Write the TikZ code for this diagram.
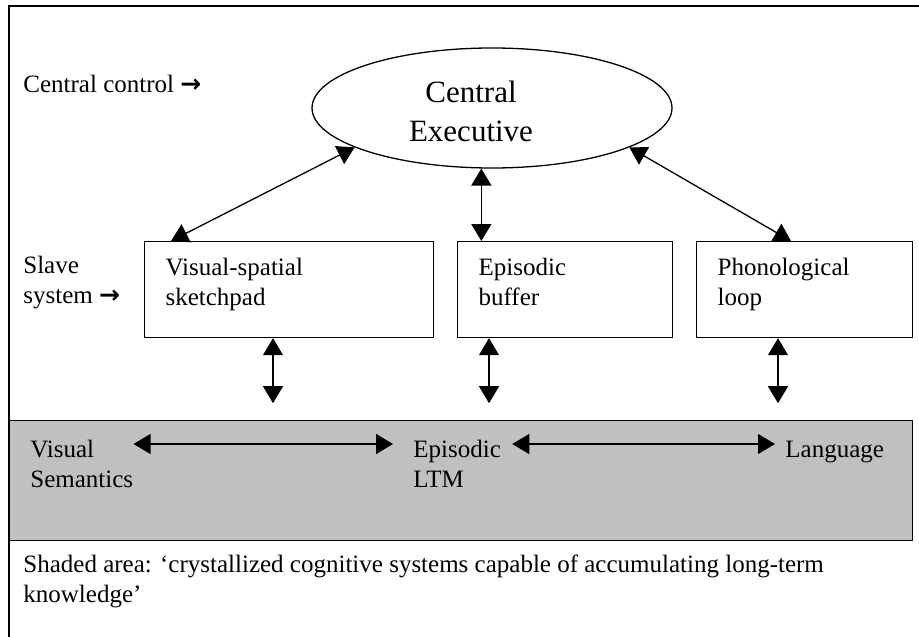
\documentclass[tikz,border=0pt]{standalone}
\usepackage{fontspec}
\setmainfont{Liberation Serif}
\newfontfamily\arrowfont{DejaVu Sans}
\usetikzlibrary{arrows.meta,calc,shapes.geometric}
\definecolor{wmink}{HTML}{000000}
\definecolor{wmshade}{HTML}{C0C0C0}
\newcommand{\rarr}{{\arrowfont\bfseries →}}
\tikzset{
  txt/.style={inner sep=0pt, align=left, anchor=base west, font=\fontsize{12.5}{15}\selectfont},
  sys/.style={draw=wmink, line width=0.6pt, fill=white, anchor=north west, align=left, inner xsep=10.5pt, inner ysep=0pt, text height=17pt, text depth=31pt, font=\fontsize{12.5}{15}\selectfont},
  exec/.style={ellipse, draw=wmink, line width=0.65pt, minimum width=180pt, minimum height=60pt, inner sep=0pt},
  shade/.style={draw=wmink, fill=wmshade, line width=0.65pt, anchor=north west, inner sep=0pt},
  dbl/.style={{Triangle[length=8.5pt,width=10pt]}-{Triangle[length=8.5pt,width=10pt]}, line width=0.65pt, color=wmink},
}

\begin{document}
\begin{tikzpicture}[x=0.5pt, y=-0.5pt]
  \useasboundingbox (0,0) rectangle (919,636);
  \clip (0,0) rectangle (919,636);
  \draw[line width=0.65pt] (9,6) rectangle (940,660);

  \node[exec] (ce) at (492,108) {};
  \node[anchor=base, align=center, inner sep=0pt, font=\fontsize{15.5}{19.5}\selectfont] (cetitle) at (471,142) {Central\\Executive};
  \node[txt] (ctrl) at (23,93) {Central control \rarr};
  \node[txt] (slave) at (23,303) {Slave\\system \rarr};

  \node[sys, text width=123.5pt] (vs) at (144,241) {Visual-spatial\\sketchpad};
  \node[sys, text width=86.5pt] (eb) at (457,241) {Episodic\\buffer};
  \node[sys, text width=87pt] (pl) at (696,241) {Phonological\\loop};

  \node[shade, minimum width=451.5pt, minimum height=60pt] (ltm) at (9,420) {};
  \node[txt] (vsem) at (30,487) {Visual\\Semantics};
  \node[txt] (eltm) at (413,487) {Episodic\\LTM};
  \node[txt] (lang) at (785,457) {Language};
  \node[txt] (note) at (23,602) {Shaded area: ‘crystallized cognitive systems capable of accumulating long-term\\knowledge’};

  \coordinate (row) at (0,444);
  \draw[dbl] (ce.196) -- ($(vs.north west)+(27,0)$);
  \draw[dbl] (ce.260) -- (ce.260 |- eb.north);
  \draw[dbl] (ce.-16) -- ($(pl.north west)+(95,0)$);
  \foreach \nd/\x in {vs/273, eb/489, pl/778}
    \draw[dbl] (\nd.south -| \x,0) -- ++(0,65);
  \draw[dbl, shorten >=10pt] (vsem.east |- row) -- (eltm.west |- row);
  \draw[dbl, shorten <=5.5pt, shorten >=5pt] (eltm.east |- row) -- (lang.west |- row);
\end{tikzpicture}
\end{document}
